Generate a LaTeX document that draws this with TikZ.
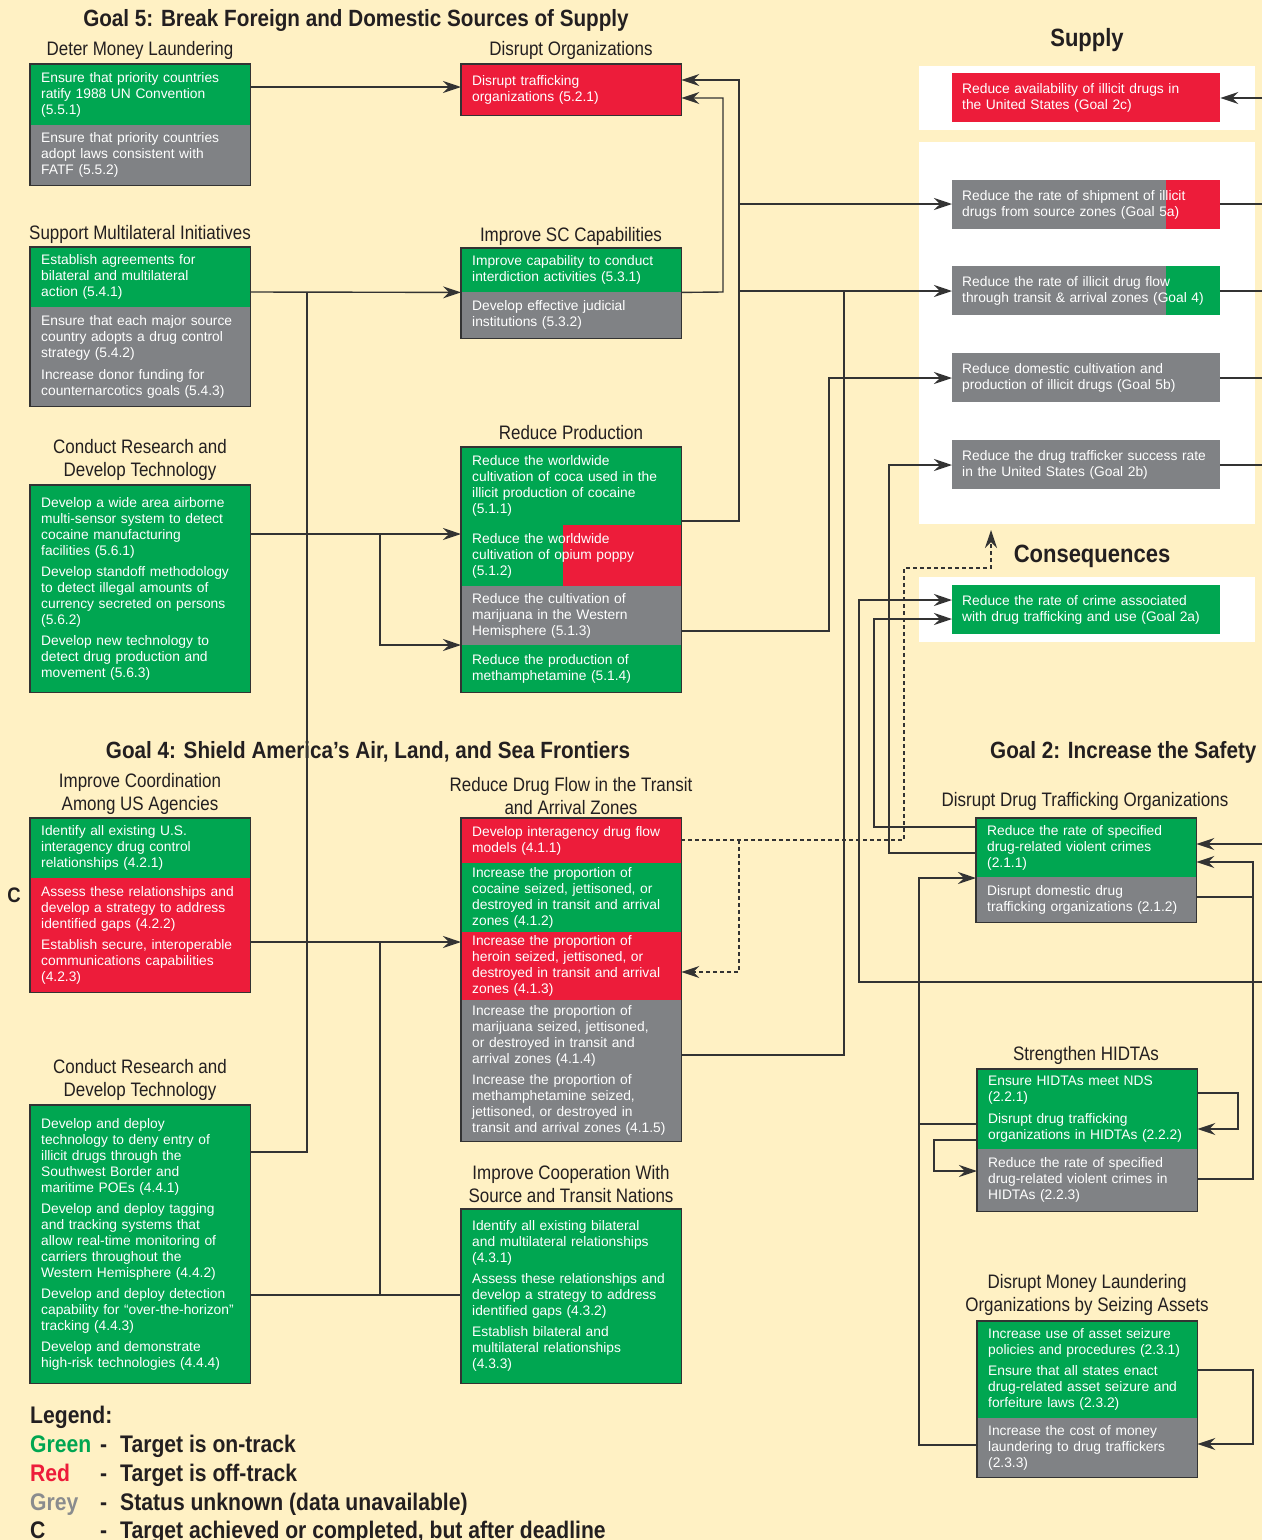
\documentclass[tikz,border=0pt]{standalone}
\usepackage{fontspec}
\setmainfont{Liberation Sans}
\newfontfamily\condfont[FakeStretch=0.87]{Liberation Sans}
\newfontfamily\headfont[FakeStretch=0.88]{Liberation Sans}
\usetikzlibrary{arrows.meta}
\definecolor{cream}{HTML}{FFF1C4}
\definecolor{okgreen}{HTML}{00A651}
\definecolor{offred}{HTML}{ED1C3A}
\definecolor{nogrey}{HTML}{808285}
\definecolor{legrey}{HTML}{8A8C8E}
\definecolor{linec}{HTML}{333333}
\definecolor{ink}{HTML}{231F20}
\newcommand{\boxfont}{\fontsize{13.8}{16}\selectfont}
\newcommand{\titfont}{\condfont\fontsize{19.5}{23}\selectfont}
\newcommand{\goalfont}{\headfont\bfseries\fontsize{23.5}{28}\selectfont}
\newcommand{\legfont}{\headfont\bfseries\fontsize{24}{28}\selectfont}

\begin{document}
\begin{tikzpicture}[x=1pt,y=-1pt,
  sec/.style={anchor=north west,inner xsep=11pt,inner ysep=0pt,minimum width=220pt,text width=198pt,align=left,text=white,font=\boxfont},
  rsec/.style={sec,inner xsep=10pt,minimum width=268pt,text width=248pt,minimum height=49pt},
  split/.style 2 args={path picture={\fill[#1] ([xshift=#2]path picture bounding box.north west) rectangle (path picture bounding box.south east);}},
  frame/.style={draw=linec,line width=1.6pt},
  tit/.style={font=\titfont,text=ink,align=center,inner sep=0pt},
  goal/.style={font=\goalfont,text=ink,inner sep=0pt},
  leg/.style={font=\legfont,text=ink,anchor=base west,inner sep=0pt},
  wire/.style={draw=linec,line width=1.4pt},
  conn/.style={wire,-{Stealth[length=18pt,width=12pt,inset=6pt]}},
  dashline/.style={dash pattern=on 4pt off 3pt}]
\useasboundingbox (0,0) rectangle (1262,1540);
\fill[cream] (0,0) rectangle (1262,1540);
\fill[white] (919,66) rectangle (1255,130);
\fill[white] (919,142) rectangle (1255,524);
\fill[white] (919,577) rectangle (1255,642);

\draw (356,20) node[goal] (g5t) {Goal 5: Break Foreign and Domestic Sources of Supply};
\draw (368,752) node[goal] (g4t) {Goal 4: Shield America’s Air, Land, and Sea Frontiers};
\draw (990,752) node[goal,anchor=west] (g2t) {Goal 2: Increase the Safety};
\draw (1087,40) node[goal,font=\headfont\bfseries\fontsize{25}{30}\selectfont] (supt) {Supply};
\draw (1092,556) node[goal,font=\headfont\bfseries\fontsize{25}{30}\selectfont] (cqt) {Consequences};
\draw (14,895) node[goal,font=\headfont\bfseries\fontsize{21}{24}\selectfont] (cmark) {C};

\draw (140,50) node[tit] (dmlt) {Deter Money Laundering};
\draw (30,64) node[sec,fill=okgreen,minimum height=61pt] (dml1) {Ensure that priority countries\\ratify 1988 UN Convention\\(5.5.1)};
\draw (30,125) node[sec,fill=nogrey,minimum height=60pt] (dml2) {Ensure that priority countries\\adopt laws consistent with\\FATF (5.5.2)};
\draw[frame] (dml1.north west) rectangle (dml2.south east);

\draw (140,234) node[tit] (smit) {Support Multilateral Initiatives};
\draw (30,247) node[sec,fill=okgreen,minimum height=60pt] (smi1) {Establish agreements for\\bilateral and multilateral\\action (5.4.1)};
\draw (30,307) node[sec,fill=nogrey,minimum height=99pt] (smi2) {Ensure that each major source\\country adopts a drug control\\strategy (5.4.2)\\[6pt]Increase donor funding for\\counternarcotics goals (5.4.3)};
\draw[frame] (smi1.north west) rectangle (smi2.south east);

\draw (140,460) node[tit] (cr5t) {Conduct Research and\\Develop Technology};
\draw (30,485) node[sec,fill=okgreen,minimum height=207pt] (cr5) {Develop a wide area airborne\\multi-sensor system to detect\\cocaine manufacturing\\facilities (5.6.1)\\[5pt]Develop standoff methodology\\to detect illegal amounts of\\currency secreted on persons\\(5.6.2)\\[5pt]Develop new technology to\\detect drug production and\\movement (5.6.3)};
\draw[frame] (cr5.north west) rectangle (cr5.south east);

\draw (140,794) node[tit] (ict) {Improve Coordination\\Among US Agencies};
\draw (30,818) node[sec,fill=okgreen,minimum height=60pt] (ic1) {Identify all existing U.S.\\interagency drug control\\relationships (4.2.1)};
\draw (30,878) node[sec,fill=offred,minimum height=114pt] (ic2) {Assess these relationships and\\develop a strategy to address\\identified gaps (4.2.2)\\[5pt]Establish secure, interoperable\\communications capabilities\\(4.2.3)};
\draw[frame] (ic1.north west) rectangle (ic2.south east);

\draw (140,1080) node[tit] (cr4t) {Conduct Research and\\Develop Technology};
\draw (30,1105) node[sec,fill=okgreen,minimum height=278pt] (cr4) {Develop and deploy\\technology to deny entry of\\illicit drugs through the\\Southwest Border and\\maritime POEs (4.4.1)\\[5pt]Develop and deploy tagging\\and tracking systems that\\allow real-time monitoring of\\carriers throughout the\\Western Hemisphere (4.4.2)\\[5pt]Develop and deploy detection\\capability for “over-the-horizon”\\tracking (4.4.3)\\[5pt]Develop and demonstrate\\high-risk technologies (4.4.4)};
\draw[frame] (cr4.north west) rectangle (cr4.south east);

\draw (571,50) node[tit] (dot) {Disrupt Organizations};
\draw (461,64) node[sec,fill=offred,minimum height=51pt] (do1) {Disrupt trafficking\\organizations (5.2.1)};
\draw[frame] (do1.north west) rectangle (do1.south east);

\draw (571,236) node[tit] (isct) {Improve SC Capabilities};
\draw (461,248) node[sec,fill=okgreen,minimum height=44pt] (isc1) {Improve capability to conduct\\interdiction activities (5.3.1)};
\draw (461,292) node[sec,fill=nogrey,minimum height=46pt] (isc2) {Develop effective judicial\\institutions (5.3.2)};
\draw[frame] (isc1.north west) rectangle (isc2.south east);

\draw (571,433) node[tit] (rpt) {Reduce Production};
\draw (461,447) node[sec,fill=okgreen,minimum height=78pt] (rp1) {Reduce the worldwide\\cultivation of coca used in the\\illicit production of cocaine\\(5.1.1)};
\draw (461,525) node[sec,fill=okgreen,split={offred}{102pt},minimum height=61pt] (rp2) {Reduce the worldwide\\cultivation of opium poppy\\(5.1.2)};
\draw (461,586) node[sec,fill=nogrey,minimum height=59pt] (rp3) {Reduce the cultivation of\\marijuana in the Western\\Hemisphere (5.1.3)};
\draw (461,645) node[sec,fill=okgreen,minimum height=47pt] (rp4) {Reduce the production of\\methamphetamine (5.1.4)};
\draw[frame] (rp1.north west) rectangle (rp4.south east);

\draw (571,796) node[tit] (rdft) {Reduce Drug Flow in the Transit\\and Arrival Zones};
\draw (461,818) node[sec,fill=offred,minimum height=45pt] (rdf1) {Develop interagency drug flow\\models (4.1.1)};
\draw (461,863) node[sec,fill=okgreen,minimum height=69pt] (rdf2) {Increase the proportion of\\cocaine seized, jettisoned, or\\destroyed in transit and arrival\\zones (4.1.2)};
\draw (461,932) node[sec,fill=offred,minimum height=68pt] (rdf3) {Increase the proportion of\\heroin seized, jettisoned, or\\destroyed in transit and arrival\\zones (4.1.3)};
\draw (461,1000) node[sec,fill=nogrey,minimum height=141pt] (rdf4) {Increase the proportion of\\marijuana seized, jettisoned,\\or destroyed in transit and\\arrival zones (4.1.4)\\[5pt]Increase the proportion of\\methamphetamine seized,\\jettisoned, or destroyed in\\transit and arrival zones (4.1.5)};
\draw[frame] (rdf1.north west) rectangle (rdf4.south east);

\draw (571,1184) node[tit] (icot) {Improve Cooperation With\\Source and Transit Nations};
\draw (461,1209) node[sec,fill=okgreen,minimum height=174pt] (ico) {Identify all existing bilateral\\and multilateral relationships\\(4.3.1)\\[5pt]Assess these relationships and\\develop a strategy to address\\identified gaps (4.3.2)\\[5pt]Establish bilateral and\\multilateral relationships\\(4.3.3)};
\draw[frame] (ico.north west) rectangle (ico.south east);

\draw (952,73) node[rsec,fill=offred] (avail) {Reduce availability of illicit drugs in\\the United States (Goal 2c)};
\draw (952,180) node[rsec,fill=nogrey,split={offred}{214pt}] (g5a) {Reduce the rate of shipment of illicit\\drugs from source zones (Goal 5a)};
\draw (952,266) node[rsec,fill=nogrey,split={okgreen}{214pt}] (g4) {Reduce the rate of illicit drug flow\\through transit \& arrival zones (Goal 4)};
\draw (952,353) node[rsec,fill=nogrey] (g5b) {Reduce domestic cultivation and\\production of illicit drugs (Goal 5b)};
\draw (952,440) node[rsec,fill=nogrey] (g2b) {Reduce the drug trafficker success rate\\in the United States (Goal 2b)};
\draw (952,585) node[rsec,fill=okgreen] (g2a) {Reduce the rate of crime associated\\with drug trafficking and use (Goal 2a)};

\draw (1085,801) node[tit] (ddt) {Disrupt Drug Trafficking Organizations};
\draw (976,818) node[sec,fill=okgreen,minimum height=59pt] (dd1) {Reduce the rate of specified\\drug-related violent crimes\\(2.1.1)};
\draw (976,877) node[sec,fill=nogrey,minimum height=45pt] (dd2) {Disrupt domestic drug\\trafficking organizations (2.1.2)};
\draw[frame] (dd1.north west) rectangle (dd2.south east);

\draw (1086,1055) node[tit] (hit) {Strengthen HIDTAs};
\draw (977,1069) node[sec,fill=okgreen,minimum height=80pt] (hi1) {Ensure HIDTAs meet NDS\\(2.2.1)\\[6pt]Disrupt drug trafficking\\organizations in HIDTAs (2.2.2)};
\draw (977,1149) node[sec,fill=nogrey,minimum height=62pt] (hi2) {Reduce the rate of specified\\drug-related violent crimes in\\HIDTAs (2.2.3)};
\draw[frame] (hi1.north west) rectangle (hi2.south east);

\draw (1087,1295) node[tit] (dmt) {Disrupt Money Laundering\\Organizations by Seizing Assets};
\draw (977,1321) node[sec,fill=okgreen,minimum height=97pt] (dm1) {Increase use of asset seizure\\policies and procedures (2.3.1)\\[5pt]Ensure that all states enact\\drug-related asset seizure and\\forfeiture laws (2.3.2)};
\draw (977,1418) node[sec,fill=nogrey,minimum height=59pt] (dm2) {Increase the cost of money\\laundering to drug traffickers\\(2.3.3)};
\draw[frame] (dm1.north west) rectangle (dm2.south east);

\coordinate (outA) at (1262,98);
\coordinate (outB) at (1262,982);
\coordinate (outC) at (1262,844);
\coordinate (cq) at (991,530);

\draw[conn] (dml1.east |- 0,87) -- (do1.west |- 0,87);
\draw[conn] (smi1.east |- 0,292) -- (isc1.south west);
\draw[wire] (cr4.east |- 0,1152) -| (307,292);
\draw[conn] (cr5.east |- 0,534) -- (rp2.west |- 0,534);
\draw[conn] (380,534) |- (rp4.north west);
\draw[conn] (ic2.east |- 0,942) -- (rdf3.west |- 0,942);
\draw[wire] (cr4.east |- 0,1295) -- (ico.west |- 0,1295);
\draw[wire] (380,1295) -- (380,942);

\draw[conn] (isc1.south east) -- (723,292) |- (do1.east |- 0,98);
\draw[conn] (rp1.east |- 0,521) -| (739,80) -- (do1.east |- 0,80);
\draw[conn] (739,204) -- (g5a.west |- 0,204);
\draw[conn] (739,291) -- (g4.west |- 0,291);
\draw[wire] (rdf4.east |- 0,1055) -| (844,291);
\draw[conn] (rp3.east |- 0,631) -- (829,631) |- (g5b.west |- 0,378);
\draw[conn] (dd1.west |- 0,853) -- (889,853) |- (g2b.west |- 0,465);
\draw[conn] (outB) -- (859,982) |- (g2a.west |- 0,600);
\draw[conn] (dd1.west |- 0,827) -- (874,827) |- (g2a.west |- 0,619);
\draw[conn,dashline] (rdf1.east |- 0,840) -- (904,840) |- (991,568) -- (cq);
\draw[conn,dashline] (739,840) |- (rdf3.east |- 0,972);

\draw[conn] (outA) -- (avail.east |- 0,98);
\draw[wire] (g5a.east |- 0,204) -- (outA |- 0,204);
\draw[wire] (g4.east |- 0,291) -- (outA |- 0,291);
\draw[wire] (g5b.east |- 0,378) -- (outA |- 0,378);
\draw[wire] (g2b.east |- 0,465) -- (outA |- 0,465);

\draw[conn] (dm2.west |- 0,1445) -- (919,1445) |- (dd2.west |- 0,878);
\draw[wire] (hi1.west |- 0,1124) -- (919,1124);
\draw[conn] (outC) -- (dd1.east |- 0,844);
\draw[conn] (hi2.east |- 0,1179) -- (1253,1179) |- (dd1.east |- 0,862);
\draw[wire] (dd2.east |- 0,897) -- (1253,897);
\draw[conn] (hi1.east |- 0,1093) -- (1238,1093) |- (hi1.east |- 0,1129);
\draw[conn] (hi1.west |- 0,1140) -- (934,1140) |- (hi2.west |- 0,1171);
\draw[conn] (dm1.east |- 0,1370) -- (1253,1370) |- (dm2.east |- 0,1444);

\draw (30,1423) node[leg] (legt) {Legend:};
\draw (30,1452) node[leg,text=okgreen] (lg1) {Green};
\draw (30,1481) node[leg,text=offred] (lg2) {Red};
\draw (30,1510) node[leg,text=legrey] (lg3) {Grey};
\draw (30,1538) node[leg] (lg4) {C};
\draw (100,1452) node[leg] (ld1) {-};
\draw (100,1481) node[leg] (ld2) {-};
\draw (100,1510) node[leg] (ld3) {-};
\draw (100,1538) node[leg] (ld4) {-};
\draw (120,1452) node[leg] (lt1) {Target is on-track};
\draw (120,1481) node[leg] (lt2) {Target is off-track};
\draw (120,1510) node[leg] (lt3) {Status unknown (data unavailable)};
\draw (120,1538) node[leg] (lt4) {Target achieved or completed, but after deadline};
\end{tikzpicture}
\end{document}
